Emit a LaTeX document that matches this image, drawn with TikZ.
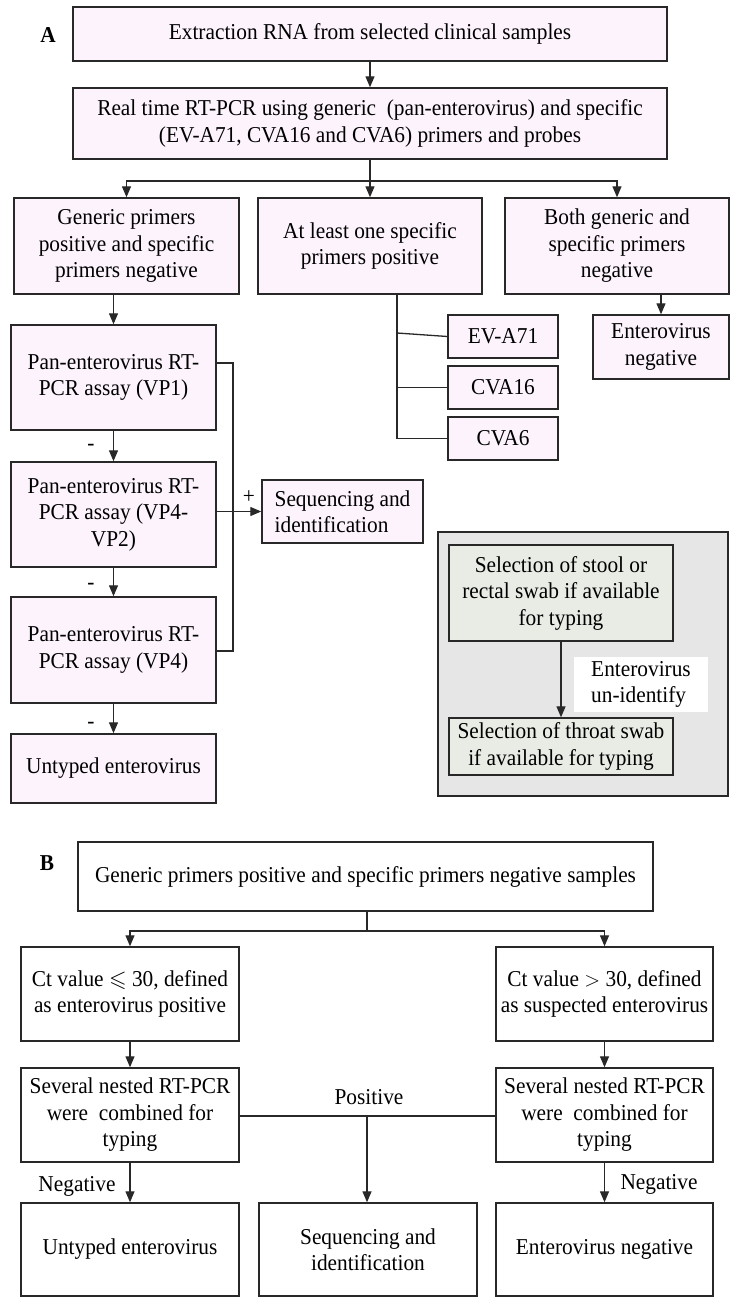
\documentclass[tikz,border=0pt]{standalone}
\usepackage{fontspec}
\usepackage{amssymb}
\setmainfont{Liberation Serif}[FakeStretch=0.94]
\usetikzlibrary{arrows.meta,calc}
\definecolor{pinkfill}{RGB}{252,243,252}
\definecolor{grayout}{RGB}{230,230,230}
\definecolor{grayin}{RGB}{232,236,229}
\definecolor{linec}{RGB}{40,40,40}
\begin{document}
\begin{tikzpicture}[x=1pt,y=-1pt,
  txt/.style={font=\fontsize{22.7}{26.5}\selectfont},
  box/.style={txt,draw=linec,line width=1.4pt,align=center,inner sep=0pt},
  pbox/.style={box,fill=pinkfill},
  gbox/.style={box,fill=grayin},
  wbox/.style={box,fill=white},
  conn/.style={draw=linec,line width=1.3pt},
  arr/.style={conn,-{Triangle[length=11pt,width=9pt]}},
  lab/.style={txt,inner sep=0pt}]
\useasboundingbox (0,0) rectangle (737,1305);

% ---------------- Panel A ----------------
\node[txt,font=\fontsize{22.7}{26.5}\selectfont\bfseries] (labA) at (48,35) {A};
\node[pbox,minimum width=594,minimum height=54] (b1) at (370,34) {Extraction RNA from selected clinical samples};
\node[pbox,minimum width=594,minimum height=71] (b2) at (370,123.5) {Real time RT-PCR using generic\ \ (pan-enterovirus) and specific\\(EV-A71, CVA16 and CVA6) primers and probes};
\node[pbox,minimum width=225,minimum height=96] (r1) at (126.5,246) {Generic primers\\positive and specific\\primers negative};
\node[pbox,minimum width=224,minimum height=96] (r2) at (370,246) {At least one specific\\primers positive};
\node[pbox,minimum width=224,minimum height=96] (r3) at (617,246) {Both generic and\\specific primers\\negative};

\draw[arr] (b1.south) -- (b2.north);
\coordinate (brA) at (370,181);
\draw[conn] (b2.south) -- (brA);
\draw[arr] (brA) -| (r1.north);
\draw[arr] (brA) -| (r3.north);
\draw[arr] (brA) -- (r2.north);

% specific types
\node[pbox,minimum width=110,minimum height=43] (ev) at (503,336.5) {EV-A71};
\node[pbox,minimum width=110,minimum height=43] (c16) at (503,387.5) {CVA16};
\node[pbox,minimum width=110,minimum height=43] (c6) at (503,438.5) {CVA6};
\coordinate (vtop) at (397,294);
\coordinate (vbot) at (397,438.5);
\coordinate (vev) at (397,333);
\draw[conn] (vtop) -- (vbot) -- (c6.west);
\draw[conn] (vev) -- (ev.west);
\draw[conn] (vtop |- c16.west) -- (c16.west);

% enterovirus negative
\node[pbox,minimum width=136,minimum height=64] (neg) at (661,347) {Enterovirus\\negative};
\draw[arr] (r3.south -| neg.north) -- (neg.north);

% left column
\node[pbox,minimum width=205,minimum height=105] (vp1) at (113.5,377.5) {Pan-enterovirus RT-\\PCR assay (VP1)};
\node[pbox,minimum width=205,minimum height=105] (vp42) at (113.5,514.5) {Pan-enterovirus RT-\\PCR assay (VP4-\\VP2)};
\node[pbox,minimum width=205,minimum height=106] (vp4) at (113.5,650) {Pan-enterovirus RT-\\PCR assay (VP4)};
\node[pbox,minimum width=205,minimum height=69] (unt) at (113.5,768.5) {Untyped enterovirus};
\draw[arr] (r1.south -| vp1.north) -- (vp1.north);
\draw[arr] (vp1.south) -- (vp42.north);
\draw[arr] (vp42.south) -- (vp4.north);
\draw[arr] (vp4.south) -- (unt.north);
\node[lab] (m1) at (91,447) {-};
\node[lab] (m2) at (91,586) {-};
\node[lab] (m3) at (91,725) {-};

\node[pbox,align=left,minimum width=161,minimum height=63] (seq) at (342.5,511.5) {Sequencing and\\identification};
\coordinate (ct) at (233,363);
\coordinate (cb) at (233,651);
\draw[conn] (vp1.east |- ct) -- (ct) -- (cb) -- (vp4.east |- cb);
\draw[arr] (vp42.east |- seq.west) -- (seq.west);
\node[lab] (plus) at (249,497) {+};

% gray panel
\node[draw=linec,line width=1.4pt,fill=grayout,minimum width=290,minimum height=264,inner sep=0pt] (gp) at (583,664) {};
\node[gbox,minimum width=224,minimum height=96] (g1) at (561,593) {Selection of stool or\\rectal swab if available\\for typing};
\node[gbox,minimum width=224,minimum height=57] (g2) at (561,746.5) {Selection of throat swab\\if available for typing};
\node[lab,fill=white,align=left,minimum width=134,minimum height=55,inner xsep=9pt] (unid) at (641,684.5) {Enterovirus\\un-identify};
\draw[arr] (g1.south) -- (g2.north);

% ---------------- Panel B ----------------
\node[txt,font=\fontsize{22.7}{26.5}\selectfont\bfseries] (labB) at (47,863) {B};
\node[wbox,minimum width=575,minimum height=69] (bb1) at (365.5,876.5) {Generic primers positive and specific primers negative samples};
\node[wbox,minimum width=218,minimum height=94] (bl1) at (130,994) {Ct value $\leqslant$ 30, defined\\as enterovirus positive};
\node[wbox,minimum width=217,minimum height=94] (br1) at (604.5,994) {Ct value $>$ 30, defined\\as suspected enterovirus};
\coordinate (brB) at (367,931);
\draw[conn] (bb1.south -| brB) -- (brB);
\draw[arr] (brB) -| (bl1.north);
\draw[arr] (brB) -| (br1.north);

\node[wbox,minimum width=218,minimum height=94] (bl2) at (130,1115) {Several nested RT-PCR\\were\ \ combined for\\typing};
\node[wbox,minimum width=217,minimum height=94] (br2) at (604.5,1115) {Several nested RT-PCR\\were\ \ combined for\\typing};
\draw[arr] (bl1.south) -- (bl2.north);
\draw[arr] (br1.south) -- (br2.north);

\node[wbox,minimum width=218,minimum height=93] (bl3) at (130,1249.5) {Untyped enterovirus};
\node[wbox,minimum width=218,minimum height=93] (bm3) at (368,1249.5) {Sequencing and\\identification};
\node[wbox,minimum width=217,minimum height=93] (br3) at (604.5,1249.5) {Enterovirus negative};

\coordinate (pm) at (367,1116);
\draw[conn] (bl2.east |- pm) -- (br2.west |- pm);
\draw[arr] (pm) -- (bm3.north -| pm);
\node[lab] (pos) at (369,1097) {Positive};
\draw[arr] (bl2.south) -- (bl3.north);
\draw[arr] (br2.south) -- (br3.north);
\node[lab] (neg1) at (77,1186) {Negative};
\node[lab] (neg2) at (659,1184) {Negative};
\end{tikzpicture}
\end{document}
